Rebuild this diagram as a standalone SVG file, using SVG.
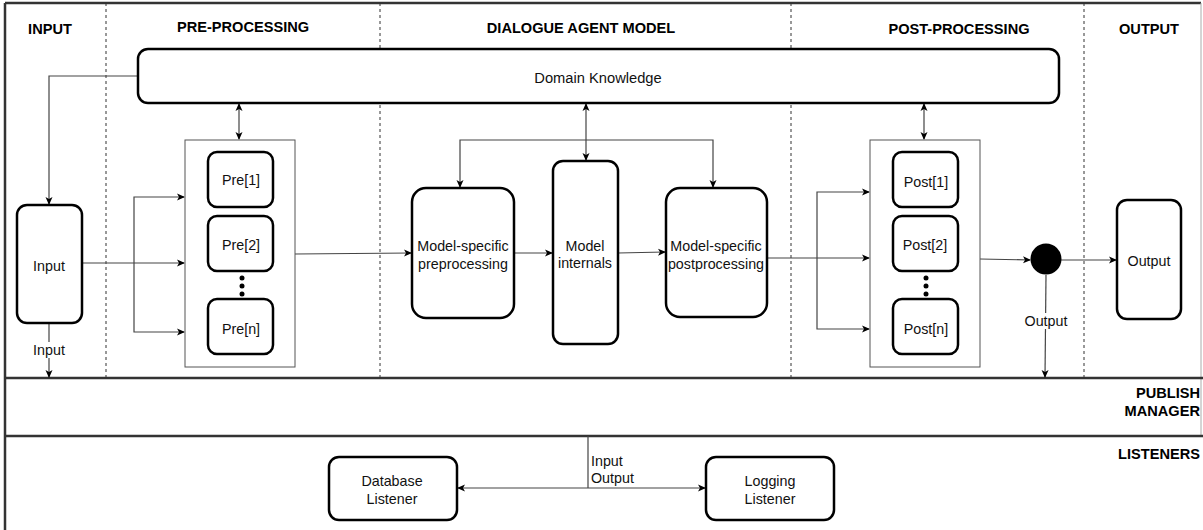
<svg xmlns="http://www.w3.org/2000/svg" width="1203" height="530" viewBox="0 0 1203 530">
<defs>
<style>
.hdr{font-family:"Liberation Sans",Arial,sans-serif;font-size:14.6px;font-weight:bold;fill:#000}
.lbl{font-family:"Liberation Sans",Arial,sans-serif;font-size:14.3px;fill:#111}
.box{fill:#fff;stroke:#000;stroke-width:2.5}
.cont{fill:#fff;stroke:#555;stroke-width:1}
.sep{stroke:#333;stroke-width:2.5;fill:none}
.dash{stroke:#333;stroke-width:1;stroke-dasharray:3,3;fill:none}
.con{stroke:#444;stroke-width:1.2;fill:none}
.arr{marker-end:url(#ah)}
.arr2{marker-start:url(#ahs);marker-end:url(#ah)}
</style>
<marker id="ah" markerWidth="8" markerHeight="8" refX="7" refY="4" orient="auto" markerUnits="userSpaceOnUse">
<path d="M0,0.5 L8,4 L0,7.5 L2,4 Z" fill="#000"/>
</marker>
<marker id="ahs" markerWidth="8" markerHeight="8" refX="1" refY="4" orient="auto" markerUnits="userSpaceOnUse">
<path d="M8,0.5 L0,4 L8,7.5 L6,4 Z" fill="#000"/>
</marker>
</defs>
<rect x="0" y="0" width="1203" height="530" fill="#fff"/>

<g id="frame">
<line x1="5" y1="3" x2="1201" y2="3" class="sep"/>
<line x1="5" y1="3" x2="5" y2="530" class="sep"/>
<line x1="1201" y1="3" x2="1201" y2="436" stroke="#aaa" stroke-width="1"/>
<line x1="5" y1="378" x2="1203" y2="378" class="sep"/>
<line x1="5" y1="436" x2="1203" y2="436" class="sep"/>
<line x1="106" y1="3" x2="106" y2="378" class="dash"/>
<line x1="380" y1="3" x2="380" y2="378" class="dash"/>
<line x1="791" y1="3" x2="791" y2="378" class="dash"/>
<line x1="1084" y1="3" x2="1084" y2="378" class="dash"/>
<text class="hdr" x="50" y="34" text-anchor="middle">INPUT</text>
<text class="hdr" x="243" y="32" text-anchor="middle">PRE-PROCESSING</text>
<text class="hdr" x="581" y="33" text-anchor="middle">DIALOGUE AGENT MODEL</text>
<text class="hdr" x="959" y="34" text-anchor="middle">POST-PROCESSING</text>
<text class="hdr" x="1149" y="34" text-anchor="middle">OUTPUT</text>
<text class="hdr" x="1200" y="398" text-anchor="end">PUBLISH</text>
<text class="hdr" x="1200" y="416" text-anchor="end">MANAGER</text>
<text class="hdr" x="1200" y="459" text-anchor="end">LISTENERS</text>
</g>

<g id="connectors">
<polyline points="138,76 49,76 49,204" class="con arr"/>
<line x1="49" y1="323" x2="49" y2="377" class="con arr"/>
<rect x="29" y="342" width="40" height="16" fill="#fff"/>
<text class="lbl" x="49" y="355" text-anchor="middle">Input</text>
<line x1="239" y1="104" x2="239" y2="139" class="con arr2"/>
<line x1="82" y1="263" x2="184" y2="263" class="con arr"/>
<polyline points="184,197 134,197 134,332 184,332" class="con" style="marker-start:url(#ahs);marker-end:url(#ah)"/>
<line x1="295" y1="254" x2="411" y2="253" class="con arr"/>
<line x1="586" y1="104" x2="586" y2="160" class="con arr2"/>
<polyline points="460,187 460,140 713,140 713,187" class="con" style="marker-start:url(#ahs);marker-end:url(#ah)"/>
<line x1="514" y1="253" x2="552" y2="253" class="con arr"/>
<line x1="618" y1="253" x2="665" y2="252" class="con arr"/>
<line x1="767" y1="258" x2="869" y2="258" class="con arr"/>
<polyline points="869,192 817,192 817,329 869,329" class="con" style="marker-start:url(#ahs);marker-end:url(#ah)"/>
<line x1="924" y1="104" x2="924" y2="139" class="con arr2"/>
<line x1="980" y1="259" x2="1030" y2="260" class="con arr"/>
<line x1="1061" y1="260" x2="1116" y2="260" class="con arr"/>
<line x1="1046" y1="275" x2="1045" y2="377" class="con arr"/>
<rect x="1023" y="313" width="46" height="16" fill="#fff"/>
<text class="lbl" x="1046" y="326" text-anchor="middle">Output</text>
<line x1="588" y1="436" x2="588" y2="488" class="con"/>
<line x1="588" y1="488" x2="458" y2="488" class="con arr"/>
<line x1="588" y1="488" x2="705" y2="488" class="con arr"/>
<text class="lbl" x="591" y="466">Input</text>
<text class="lbl" x="591" y="483">Output</text>
</g>

<g id="domain-knowledge">
<rect x="138" y="49" width="921" height="54" rx="10" class="box"/>
<text class="lbl" x="598" y="83" text-anchor="middle" style="font-size:14.7px">Domain Knowledge</text>
</g>

<g id="input">
<rect x="17" y="205" width="65" height="118" rx="10" class="box"/>
<text class="lbl" x="49" y="271" text-anchor="middle">Input</text>
</g>

<g id="pre-container">
<rect x="185" y="140" width="110" height="227" class="cont"/>
</g>
<g id="pre1">
<rect x="208" y="152" width="65" height="55" rx="9" class="box"/>
<text class="lbl" x="241" y="185" text-anchor="middle">Pre[1]</text>
</g>
<g id="pre2">
<rect x="208" y="216" width="65" height="55" rx="9" class="box"/>
<text class="lbl" x="241" y="250" text-anchor="middle">Pre[2]</text>
</g>
<g id="pre-dots" fill="#000">
<circle cx="242" cy="278" r="2.5"/><circle cx="242" cy="286" r="2.5"/><circle cx="242" cy="294" r="2.5"/>
</g>
<g id="pre-n">
<rect x="208" y="299" width="65" height="55" rx="9" class="box"/>
<text class="lbl" x="241" y="334" text-anchor="middle">Pre[n]</text>
</g>

<g id="ms-pre">
<rect x="412" y="188" width="102" height="130" rx="14" class="box"/>
<text class="lbl" x="463" y="251" text-anchor="middle">Model-specific</text>
<text class="lbl" x="463" y="269" text-anchor="middle">preprocessing</text>
</g>
<g id="model-internals">
<rect x="553" y="161" width="65" height="183" rx="10" class="box"/>
<text class="lbl" x="585" y="251" text-anchor="middle">Model</text>
<text class="lbl" x="585" y="268" text-anchor="middle">internals</text>
</g>
<g id="ms-post">
<rect x="666" y="188" width="101" height="129" rx="14" class="box"/>
<text class="lbl" x="716" y="251" text-anchor="middle">Model-specific</text>
<text class="lbl" x="716" y="269" text-anchor="middle">postprocessing</text>
</g>

<g id="post-container">
<rect x="870" y="140" width="110" height="227" class="cont"/>
</g>
<g id="post1">
<rect x="893" y="152" width="65" height="55" rx="9" class="box"/>
<text class="lbl" x="926" y="187" text-anchor="middle">Post[1]</text>
</g>
<g id="post2">
<rect x="893" y="216" width="65" height="55" rx="9" class="box"/>
<text class="lbl" x="925" y="250" text-anchor="middle">Post[2]</text>
</g>
<g id="post-dots" fill="#000">
<circle cx="926" cy="278" r="2.5"/><circle cx="926" cy="286" r="2.5"/><circle cx="926" cy="294" r="2.5"/>
</g>
<g id="post-n">
<rect x="893" y="299" width="65" height="55" rx="9" class="box"/>
<text class="lbl" x="926" y="334" text-anchor="middle">Post[n]</text>
</g>

<g id="junction">
<circle cx="1046" cy="259" r="15.5" fill="#000"/>
</g>

<g id="output">
<rect x="1117" y="200" width="64" height="119" rx="10" class="box"/>
<text class="lbl" x="1149" y="266" text-anchor="middle">Output</text>
</g>

<g id="database-listener">
<rect x="329" y="457" width="128" height="63" rx="10" class="box"/>
<text class="lbl" x="392" y="486" text-anchor="middle">Database</text>
<text class="lbl" x="392" y="504" text-anchor="middle">Listener</text>
</g>
<g id="logging-listener">
<rect x="706" y="457" width="128" height="63" rx="10" class="box"/>
<text class="lbl" x="770" y="486" text-anchor="middle">Logging</text>
<text class="lbl" x="770" y="504" text-anchor="middle">Listener</text>
</g>
</svg>
